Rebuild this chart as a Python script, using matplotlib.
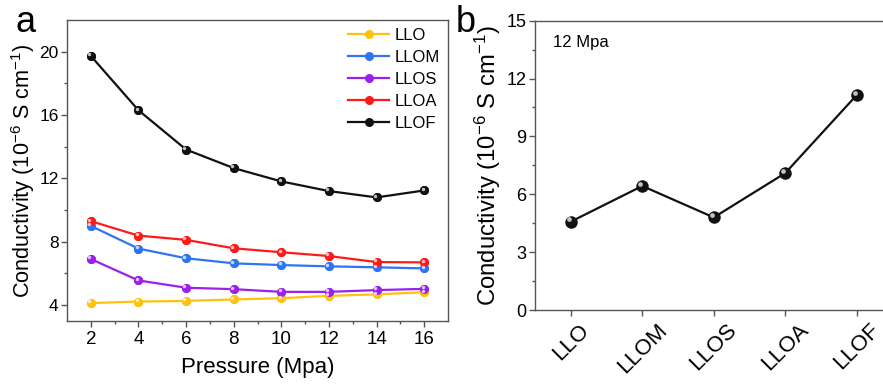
import matplotlib
matplotlib.use("Agg")
import matplotlib.pyplot as plt
import matplotlib.transforms as mtransforms

plt.rcParams['font.family'] = ['Liberation Sans', 'DejaVu Sans']
plt.rcParams['mathtext.fontset'] = 'custom'
plt.rcParams['mathtext.rm'] = 'Liberation Sans'
plt.rcParams['mathtext.it'] = 'Liberation Sans'
plt.rcParams['mathtext.default'] = 'regular'

pressure = [2, 4, 6, 8, 10, 12, 14, 16]
llo  = [4.13, 4.23, 4.27, 4.36, 4.44, 4.59, 4.68, 4.82]
llom = [9.00, 7.57, 6.96, 6.64, 6.53, 6.45, 6.39, 6.32]
llos = [6.91, 5.56, 5.10, 5.01, 4.84, 4.84, 4.95, 5.03]
lloa = [9.30, 8.39, 8.12, 7.59, 7.34, 7.10, 6.72, 6.70]
llof = [19.73, 16.30, 13.82, 12.65, 11.81, 11.20, 10.80, 11.24]

series_names = ['LLO', 'LLOM', 'LLOS', 'LLOA', 'LLOF']
series_vals = [llo, llom, llos, lloa, llof]
colors = ['#FFC20E', '#2F74F5', '#9B20EE', '#FF1A1A', '#111111']

b_categories = ['LLO', 'LLOM', 'LLOS', 'LLOA', 'LLOF']
b_values = [4.58, 6.43, 4.80, 7.10, 11.15]

fig = plt.figure(figsize=(8.83, 3.85), dpi=100)
axA = fig.add_axes([0.0759, 0.1662, 0.4315, 0.782])
axB = fig.add_axes([0.6059, 0.1948, 0.4049, 0.7514])

spine_col = '#555555'

def sphere(ax, x, y, color, ms, hl='white'):
    ax.plot(x, y, 'o', color=color, ms=ms, mec=color, mew=0, zorder=4)
    off = mtransforms.offset_copy(ax.transData, fig=fig, x=-ms*0.18, y=ms*0.18, units='points')
    ax.plot(x, y, 'o', color=hl, ms=ms*0.38, mew=0, alpha=0.75, transform=off, zorder=5)

handles = []
for name, vals, c in zip(series_names, series_vals, colors):
    h, = axA.plot(pressure, vals, '-', color=c, lw=1.6, marker='o', ms=6.5, mew=0, label=name, zorder=3)
    sphere(axA, pressure, vals, c, 6.5)
    handles.append(h)

axA.set_xlim(1, 17)
axA.set_ylim(3, 22)
axA.set_xticks(pressure)
axA.set_xticks([3, 5, 7, 9, 11, 13, 15], minor=True)
axA.set_yticks([4, 8, 12, 16, 20])
axA.set_yticks([6, 10, 14, 18], minor=True)
axA.set_xlabel('Pressure (Mpa)', fontsize=16, labelpad=7)
axA.set_ylabel('Conductivity (10$^{-6}$ S cm$^{-1}$)', fontsize=15.6, labelpad=2)
leg = axA.legend(handles=handles, loc='upper right', frameon=False, fontsize=12,
                 handlelength=2.5, handletextpad=0.3, labelspacing=0.42,
                 borderaxespad=0.1)

axB.plot(range(len(b_categories)), b_values, '-', color='#111111', lw=1.6, zorder=3)
sphere(axB, range(len(b_categories)), b_values, '#111111', 9)
axB.set_xlim(-0.5, 4.5)
axB.set_ylim(0, 15)
axB.set_xticks(range(len(b_categories)))
axB.set_xticklabels(b_categories, rotation=45, ha='center', va='top', fontsize=16)
axB.set_yticks([0, 3, 6, 9, 12, 15])
axB.set_yticks([1.5, 4.5, 7.5, 10.5, 13.5], minor=True)
axB.set_ylabel('Conductivity (10$^{-6}$ S cm$^{-1}$)', fontsize=17.2, labelpad=3)
axB.text(0.05, 0.925, '12 Mpa', transform=axB.transAxes, fontsize=12, va='center', ha='left')

for ax in (axA, axB):
    for s in ax.spines.values():
        s.set_color(spine_col)
        s.set_linewidth(1.0)
    ax.tick_params(which='both', direction='out', color=spine_col, top=False, right=False)
    ax.tick_params(which='major', length=4, width=1.0, pad=2)
    ax.tick_params(which='minor', length=2.5, width=1.0)
axA.tick_params(axis='x', labelsize=13.5, pad=3)
axA.tick_params(axis='y', labelsize=12.5)
axB.tick_params(axis='y', labelsize=13)
axB.tick_params(axis='x', labelsize=16, pad=3)

fig.text(0.017, 0.917, 'a', fontsize=26, ha='left', va='baseline')
fig.text(0.516, 0.917, 'b', fontsize=26, ha='left', va='baseline')

fig.savefig('out.png', dpi=100)
